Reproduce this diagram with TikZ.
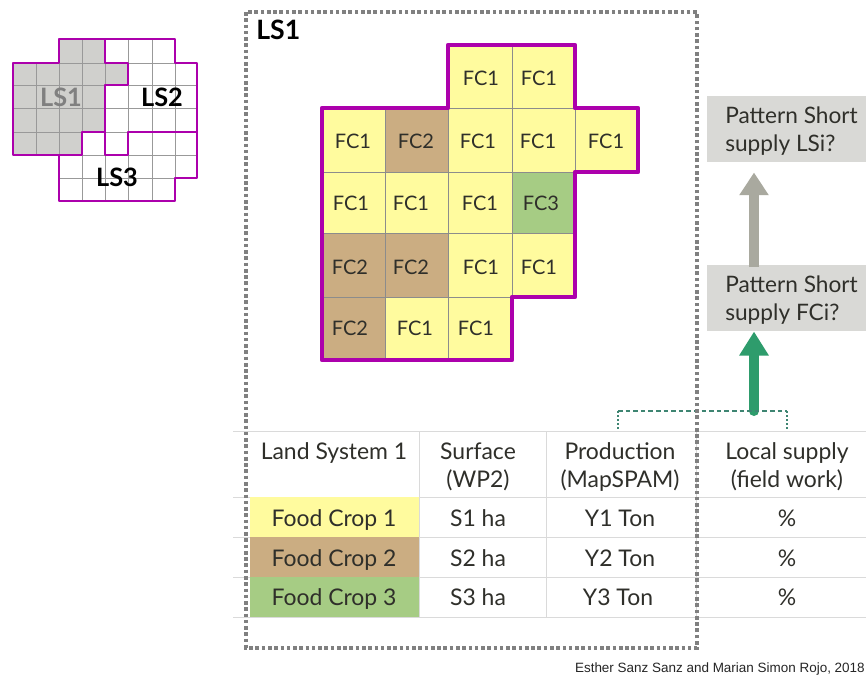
\documentclass[tikz,border=0pt]{standalone}
\usepackage{fontspec}
\setmainfont{Lato}
\newfontfamily\attrib{Liberation Sans}
\usetikzlibrary{arrows.meta,positioning}
\definecolor{purp}{HTML}{AC00AC}
\definecolor{fcyellow}{HTML}{FFFB9E}
\definecolor{fcbrown}{HTML}{CBAD82}
\definecolor{fcgreen}{HTML}{A6CC84}
\definecolor{ink}{HTML}{2F2F2A}
\definecolor{boxgray}{HTML}{D9D9D6}
\definecolor{mapgray}{HTML}{D0D0CD}
\definecolor{arrgray}{HTML}{A9A99F}
\definecolor{arrgreen}{HTML}{2E9C6C}
\definecolor{frame}{HTML}{808080}
\definecolor{rule}{HTML}{DADADA}
\definecolor{teal}{HTML}{3E8572}
\tikzset{
  x=0.75pt,y=-0.75pt,
  outline/.style={draw=purp,line width=3.4pt,line join=round},
  smalloutline/.style={draw=purp,line width=1.9pt,line join=round},
  cellline/.style={draw=black!45,line width=0.4pt},
  fclabel/.style={font=\fontsize{15}{16}\selectfont,text=ink,inner sep=0pt},
  tabtext/.style={font=\fontsize{17.2}{21}\selectfont,text=ink,inner sep=0pt,align=center},
  rowtext/.style={tabtext,anchor=base},
  patbox/.style={fill=boxgray,minimum width=119.25pt,minimum height=49.5pt,inner sep=0pt,anchor=north west},
  pattext/.style={font=\fontsize{17}{21}\selectfont,text=ink,inner sep=0pt,align=left,anchor=west},
  croprow/.style={minimum width=126.75pt,minimum height=30pt,inner sep=0pt},
  tabrule/.style={draw=rule,line width=0.6pt},
  maplabel/.style={font=\bfseries\fontsize{19}{21}\selectfont,inner sep=0pt},
  grayarrow/.style={draw=arrgray,line width=7.5pt,-{Triangle[length=17pt,width=21pt]}},
  greenarrow/.style={draw=arrgreen,line width=7.5pt,-{Triangle[length=18pt,width=21pt]}},
}
\begin{document}
\begin{tikzpicture}
\useasboundingbox (0,0) rectangle (866,679);
\fill[white] (0,0) rectangle (866,679);

% --- small overview map ---
\fill[mapgray] (59,39) -- (105,39) -- (105,63) -- (128,63) -- (128,85) -- (105,85) -- (105,132) -- (82,132) -- (82,155) -- (13,155) -- (13,63) -- (59,63) -- cycle;
\begin{scope}
\clip (59,39) -- (175,39) -- (175,63) -- (197,63) -- (197,178) -- (175,178) -- (175,201) -- (59,201) -- (59,155) -- (13,155) -- (13,63) -- (59,63) -- cycle;
\foreach \gx in {36,59,82,105,128,152,175}
  \draw[draw=black!40,line width=0.35pt] (\gx,39) -- (\gx,201);
\foreach \gy in {63,85,108,132,155,178}
  \draw[draw=black!40,line width=0.35pt] (13,\gy) -- (197,\gy);
\end{scope}
\draw[smalloutline] (59,39) -- (175,39) -- (175,63) -- (197,63) -- (197,178) -- (175,178) -- (175,201) -- (59,201) -- (59,155) -- (13,155) -- (13,63) -- (59,63) -- cycle;
\draw[smalloutline] (105,39) -- (105,63) -- (128,63) -- (128,85) -- (105,85) -- (105,155) -- (128,155) -- (128,132) -- (197,132);
\draw[smalloutline] (105,132) -- (82,132) -- (82,155) -- (59,155);
\node[maplabel,text=black!50] (ovls1) at (61,97) {LS1};
\node[maplabel,text=black] (ovls2) at (162,97) {LS2};
\node[maplabel,text=black] (ovls3) at (117,177) {LS3};

% --- main grid: left, top, right, bottom, colour, text x, text y, label ---
\foreach \xa/\ya/\xb/\yb/\col/\tx/\ty/\lab in {
  448/45/512/108/fcyellow/481/78/FC1,
  512/45/575/108/fcyellow/539/78/FC1,
  322/108/385/172/fcyellow/353/141/FC1,
  385/108/448/172/fcbrown/416/141/FC2,
  448/108/512/172/fcyellow/478/141/FC1,
  512/108/575/172/fcyellow/538/141/FC1,
  575/108/638/172/fcyellow/606/141/FC1,
  322/172/385/233/fcyellow/351/203/FC1,
  385/172/448/233/fcyellow/411/203/FC1,
  448/172/512/233/fcyellow/480/203/FC1,
  512/172/575/233/fcgreen/541/203/FC3,
  322/233/385/297/fcbrown/350/267/FC2,
  385/233/448/297/fcbrown/411/267/FC2,
  448/233/512/297/fcyellow/481/267/FC1,
  512/233/575/297/fcyellow/539/267/FC1,
  322/297/385/360/fcbrown/350/328/FC2,
  385/297/448/360/fcyellow/415/328/FC1,
  448/297/512/360/fcyellow/476/328/FC1}
{
  \path[fill=\col,cellline] (\xa,\ya) rectangle (\xb,\yb);
  \node[fclabel] at (\tx,\ty) {\lab};
}
\draw[outline] (448,45) -- (575,45) -- (575,108) -- (638,108) -- (638,172) -- (575,172) -- (575,297) -- (512,297) -- (512,360) -- (322,360) -- (322,108) -- (448,108) -- cycle;

% --- table ---
\foreach \ry in {431,497,537,577,617}
  \draw[tabrule] (233,\ry) -- (866,\ry);
\draw[tabrule] (419,431) -- (419,617);
\draw[tabrule] (546,431) -- (546,617);
\draw[tabrule] (696,431) -- (696,617);
\node[croprow,fill=fcyellow] (crop1) at (334.5,517) {};
\node[croprow,fill=fcbrown] (crop2) at (334.5,557) {};
\node[croprow,fill=fcgreen] (crop3) at (334.5,597) {};
\node[rowtext] (c1) at (334,526) {Food Crop 1};
\node[rowtext] (c2) at (334,566) {Food Crop 2};
\node[rowtext] (c3) at (334,605) {Food Crop 3};
\node[rowtext] (h1) at (334,459) {Land System 1};
\node[tabtext] (h2) at (478,467) {Surface\\(WP2)};
\node[tabtext] (h3) at (620,467) {Production\\(MapSPAM)};
\node[tabtext] (h4) at (787,467) {Local supply\\(field work)};
\node[rowtext] (s1) at (478,526) {S1 ha};
\node[rowtext] (s2) at (478,566) {S2 ha};
\node[rowtext] (s3) at (478,605) {S3 ha};
\node[rowtext] (y1) at (620,526) {Y1 Ton};
\node[rowtext] (y2) at (620,566) {Y2 Ton};
\node[rowtext] (y3) at (618,605) {Y3 Ton};
\node[rowtext] (p1) at (787,526) {\%};
\node[rowtext] (p2) at (787,566) {\%};
\node[rowtext] (p3) at (787,605) {\%};

% --- right-hand boxes and arrows ---
\node[patbox] (lsi) at (707,96) {};
\node[patbox] (fci) at (707,265) {};
\node[pattext] (lsit) at (725,131) {Pattern Short\\supply LSi?};
\node[pattext] (fcit) at (725,300) {Pattern Short\\supply FCi?};
\coordinate (axis) at (754,411);
\coordinate (bl) at (618,430);
\coordinate (tl) at (618,411);
\coordinate (tr) at (787,411);
\coordinate (br) at (787,430);
\draw[grayarrow,shorten >=7.5pt] (fci.north -| axis) ++(0,2) -- (lsi.south -| axis);
\draw[greenarrow,line cap=round] (axis) -- (fci.south -| axis);
\draw[teal,line width=0.9pt,dash pattern=on 3.5pt off 2.2pt] (tl) -- (tr);
\draw[teal,line width=1.2pt,dash pattern=on 1.5pt off 1.5pt] (tl) -- (bl);
\draw[teal,line width=1.2pt,dash pattern=on 1.5pt off 1.5pt] (tr) -- (br);

% --- dotted frame ---
\draw[frame,line width=3.4pt,dash pattern=on 2.7pt off 2pt] (246,12) rectangle (697,648);
\node[font=\bfseries\fontsize{20}{22}\selectfont,inner sep=0pt,anchor=west] (ls1) at (256,30) {LS1};

% --- credit ---
\node[font=\attrib\fontsize{10.1}{11}\selectfont,inner sep=0pt,anchor=east,text=black!85] (credit) at (865,669) {Esther Sanz Sanz and Marian Simon Rojo, 2018};
\end{tikzpicture}
\end{document}
